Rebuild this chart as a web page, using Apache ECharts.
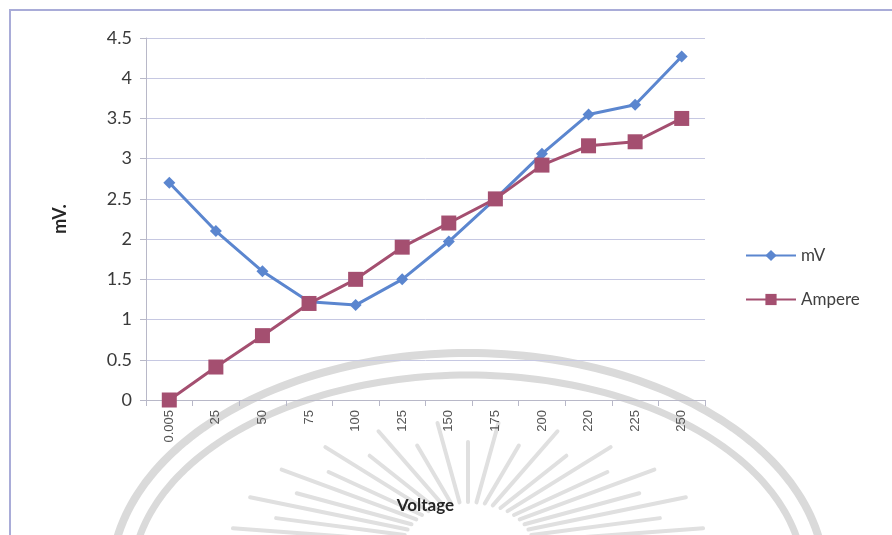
<!DOCTYPE html>
<html>
<head>
<meta charset="utf-8">
<script src="https://cdn.jsdelivr.net/npm/echarts@6/dist/echarts.min.js"></script>
<style>
  html, body { margin: 0; padding: 0; background: #ffffff; }
  #chart { width: 892px; height: 535px; }
</style>
</head>
<body>
<div id="chart"></div>
<script>
// Measured readings per supply voltage
const categories = ['0.005', '25', '50', '75', '100', '125', '150', '175', '200', '220', '225', '250'];
const mvValues = [2.7, 2.1, 1.6, 1.22, 1.18, 1.5, 1.97, 2.5, 3.06, 3.55, 3.67, 4.27];
const ampereValues = [0, 0.41, 0.8, 1.2, 1.5, 1.9, 2.2, 2.5, 2.92, 3.16, 3.21, 3.5];
const yTicks = { min: 0, max: 4.5, step: 0.5 };

// Faint seal in the background: two rings and a fan of rays
function ellipsePoints(cx, cy, a, b, from, to, n) {
  const pts = [];
  for (let i = 0; i <= n; i++) {
    const t = (from + (to - from) * i / n) * Math.PI / 180;
    pts.push([cx + a * Math.cos(t), cy - b * Math.sin(t)]);
  }
  return pts;
}
const ringColor = '#dadada';
const rayColor = '#e0e0e0';
const sealCx = 468, sealCy = 580;
const seal = [
  { type: 'polyline', z: 0, silent: true,
    shape: { points: ellipsePoints(sealCx, sealCy, 357, 227, 0, 180, 120) },
    style: { stroke: ringColor, lineWidth: 8, fill: null } },
  { type: 'polyline', z: 0, silent: true,
    shape: { points: ellipsePoints(sealCx, sealCy, 336, 205, 0, 180, 120) },
    style: { stroke: ringColor, lineWidth: 7, fill: null } }
];
const rayCx = 468, rayCy = 548;
for (let i = 0; i <= 22; i++) {
  const deg = 9 + i * (162 / 22);
  const t = deg * Math.PI / 180;
  const long = i % 2 === 0;
  const ao = long ? 238 : 200, bo = long ? 126 : 106;
  const ai = 66, bi = 46;
  seal.push({
    type: 'line', z: 0, silent: true,
    shape: {
      x1: rayCx + ai * Math.cos(t), y1: rayCy - bi * Math.sin(t),
      x2: rayCx + ao * Math.cos(t), y2: rayCy - bo * Math.sin(t)
    },
    style: { stroke: rayColor, lineWidth: 4, lineCap: 'round' }
  });
}
// Chart area frame
seal.push({
  type: 'rect', z: 0, silent: true,
  shape: { x: 10, y: 10, width: 900, height: 540 },
  style: { fill: null, stroke: '#a9acd8', lineWidth: 2 }
});

const chart = echarts.init(document.getElementById('chart'));
chart.setOption({
  backgroundColor: '#ffffff',
  animation: false,
  graphic: { elements: seal },
  grid: { left: 146, right: 187, top: 38, bottom: 135, containLabel: false },
  legend: {
    orient: 'vertical',
    left: 740,
    top: 242,
    itemWidth: 50,
    itemHeight: 14,
    itemGap: 27,
    textStyle: { fontFamily: 'Lato', fontSize: 17, color: '#404040' },
    data: ['mV', 'Ampere']
  },
  xAxis: {
    type: 'category',
    data: categories,
    boundaryGap: true,
    name: 'Voltage',
    nameLocation: 'middle',
    nameGap: 97,
    nameTextStyle: { fontFamily: 'Lato', fontSize: 17, fontWeight: 'bold', color: '#262626' },
    axisLine: { lineStyle: { color: '#b8b8c8', width: 1 } },
    axisTick: { show: true, alignWithLabel: false, length: 6, lineStyle: { color: '#b8b8c8' } },
    axisLabel: { rotate: 90, margin: 10, fontFamily: 'Liberation Sans', fontSize: 13, color: '#555555' },
    splitLine: { show: false }
  },
  yAxis: {
    type: 'value',
    min: yTicks.min,
    max: yTicks.max,
    interval: yTicks.step,
    name: 'mV.',
    nameLocation: 'middle',
    nameGap: 77,
    nameRotate: 90,
    nameTextStyle: { fontFamily: 'Lato', fontSize: 18, fontWeight: 'bold', color: '#262626' },
    axisLine: { show: true, lineStyle: { color: '#b8b8c8', width: 1 } },
    axisTick: { show: true, length: 6, lineStyle: { color: '#b8b8c8' } },
    axisLabel: { margin: 14, fontFamily: 'Lato', fontSize: 18, color: '#3a3a3a' },
    splitLine: { show: true, lineStyle: { color: '#c6c8e2', width: 1 } }
  },
  series: [
    {
      name: 'mV',
      type: 'line',
      data: mvValues,
      symbol: 'diamond',
      symbolSize: 12,
      lineStyle: { color: '#5b86cf', width: 3 },
      itemStyle: { color: '#5b86cf' },
      z: 3
    },
    {
      name: 'Ampere',
      type: 'line',
      data: ampereValues,
      symbol: 'rect',
      symbolSize: 15,
      lineStyle: { color: '#a44f70', width: 3 },
      itemStyle: { color: '#a44f70' },
      z: 4
    }
  ]
});
</script>
</body>
</html>
